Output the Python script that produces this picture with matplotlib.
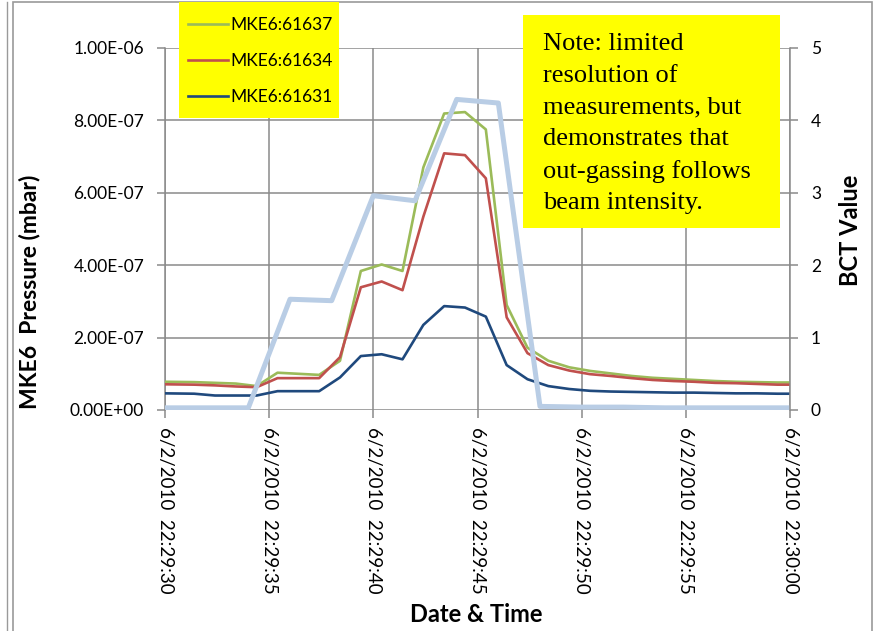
import matplotlib
matplotlib.use("Agg")
import matplotlib.pyplot as plt
from matplotlib.lines import Line2D
from matplotlib.patches import Rectangle

# ── Data ─────────────────────────────────────────────────────────────────────
# pressure samples: seconds after 22:29:30, values in units of 1e-7 mbar
press_sec = [0.0, 1.4, 2.4, 3.4, 4.4, 5.4, 6.4, 7.4, 8.4, 9.4, 10.4, 11.4,
             12.4, 13.4, 14.4, 15.4, 16.4, 17.4, 18.4, 19.4, 20.4, 21.4,
             22.4, 23.4, 24.4, 25.4, 26.4, 27.4, 28.4, 29.4, 30.0]
mke6_61637 = [0.78, 0.77, 0.75, 0.73, 0.66, 1.03, 1.00, 0.97, 1.36, 3.84, 4.02,
              3.84, 6.70, 8.19, 8.23, 7.75, 2.90, 1.72, 1.36, 1.18, 1.08, 1.01,
              0.94, 0.89, 0.86, 0.83, 0.80, 0.78, 0.77, 0.76, 0.76]
mke6_61634 = [0.71, 0.70, 0.68, 0.65, 0.63, 0.88, 0.88, 0.88, 1.46, 3.39, 3.55,
              3.31, 5.34, 7.09, 7.04, 6.40, 2.56, 1.57, 1.24, 1.09, 0.99, 0.94,
              0.88, 0.83, 0.80, 0.78, 0.75, 0.74, 0.72, 0.70, 0.70]
mke6_61631 = [0.46, 0.45, 0.40, 0.40, 0.40, 0.52, 0.52, 0.52, 0.90, 1.49, 1.54,
              1.40, 2.35, 2.87, 2.83, 2.58, 1.24, 0.85, 0.66, 0.58, 0.53, 0.51,
              0.50, 0.49, 0.48, 0.48, 0.47, 0.46, 0.46, 0.45, 0.45]

bct_sec = [0, 2, 4, 6, 8, 10, 12, 14, 16, 18, 20, 22, 24, 26, 28, 30]
bct_val = [0.03, 0.03, 0.03, 1.53, 1.51, 2.96, 2.89, 4.29, 4.24, 0.05, 0.04,
           0.04, 0.03, 0.03, 0.03, 0.03]

x_ticks = [0, 5, 10, 15, 20, 25, 30]
x_labels = ["6/2/2010  22:29:30", "6/2/2010  22:29:35", "6/2/2010  22:29:40",
            "6/2/2010  22:29:45", "6/2/2010  22:29:50", "6/2/2010  22:29:55",
            "6/2/2010  22:30:00"]
y_ticks = [0, 2e-7, 4e-7, 6e-7, 8e-7, 1e-6]
y_labels = ["0.00E+00", "2.00E-07", "4.00E-07", "6.00E-07", "8.00E-07", "1.00E-06"]

note = ("Note: limited\nresolution of\nmeasurements, but\n"
        "demonstrates that\nout-gassing follows\nbeam intensity.")

GREEN, RED, NAVY, SKY = "#9bbb59", "#c0504d", "#1f497d", "#b9cde5"
GRID = "#8a8a8a"
W, H = 875, 631

plt.rcParams["font.family"] = ["Lato", "DejaVu Sans"]

fig = plt.figure(figsize=(W / 100, H / 100), dpi=100)
ax = fig.add_axes([165 / W, 1 - 410 / H, 625 / W, 362 / H])

scale = 1e-7
h1, = ax.plot(press_sec, [v * scale for v in mke6_61637], color=GREEN, lw=1.9,
              label="MKE6:61637", zorder=3)
h2, = ax.plot(press_sec, [v * scale for v in mke6_61634], color=RED, lw=1.9,
              label="MKE6:61634", zorder=3)
h3, = ax.plot(press_sec, [v * scale for v in mke6_61631], color=NAVY, lw=1.9,
              label="MKE6:61631", zorder=3)

ax.set_xlim(0, 30)
ax.set_ylim(0, 1e-6)
ax.set_xticks(x_ticks)
ax.set_xticklabels(x_labels, rotation=270, fontsize=13.5)
ax.set_yticks(y_ticks)
ax.set_yticklabels(y_labels, fontsize=12.5)
ax.grid(True, color=GRID, lw=1.1)
ax.set_axisbelow(True)
ax.tick_params(axis="both", colors=GRID, length=6, width=1.1, labelcolor="black")
ax.tick_params(axis="x", pad=6)
ax.tick_params(axis="y", pad=9)
for side in ("top", "bottom", "right"):
    ax.spines[side].set_visible(False)
ax.spines["left"].set_color(GRID)
ax.spines["left"].set_linewidth(1.1)

ax2 = ax.twinx()
ax2.plot(bct_sec, bct_val, color=SKY, lw=3.6, zorder=2)
ax2.set_ylim(0, 5)
ax2.set_yticks([0, 1, 2, 3, 4, 5])
ax2.tick_params(axis="y", colors=GRID, length=6, width=1.1, labelcolor="black",
                labelsize=12.5, pad=9)
for side in ("top", "bottom", "left"):
    ax2.spines[side].set_visible(False)
ax2.spines["right"].set_color(GRID)
ax2.spines["right"].set_linewidth(1.1)

# axis titles
fig.text(30 / W, 1 - 292 / H, "MKE6  Pressure (mbar)", rotation=90, fontsize=16.5,
         fontweight="bold", ha="center", va="center")
fig.text(850 / W, 1 - 230 / H, "BCT Value", rotation=90, fontsize=17,
         fontweight="bold", ha="center", va="center")
fig.text(476 / W, 1 - 615 / H, "Date & Time", fontsize=17, fontweight="bold",
         ha="center", va="center")

# legend: yellow box drawn separately, entries placed on it
fig.patches.append(Rectangle((179 / W, 1 - 118 / H), 160 / W, 116 / H,
                             transform=fig.transFigure, facecolor="#ffff00",
                             edgecolor="none", zorder=4))
leg = fig.legend(handles=[h1, h2, h3], loc="upper left",
                 bbox_to_anchor=(188 / W, 1 - 17 / H), fontsize=12.5,
                 frameon=False, borderpad=0, labelspacing=1.15,
                 handlelength=2.3, handletextpad=0.12, borderaxespad=0)
leg.set_zorder(5)

# note box
fig.patches.append(Rectangle((523 / W, 1 - 228 / H), 257 / W, 213 / H,
                             transform=fig.transFigure, facecolor="#ffff00",
                             edgecolor="none", zorder=5))
fig.text(543 / W, 1 - 33 / H, note, fontsize=19, family="Liberation Serif",
         ha="left", va="top", linespacing=1.56, zorder=6)

# chart area frame
fig.patches.append(Rectangle((13 / W, -0.02), 859 / W, 1 - 2 / H + 0.02,
                             transform=fig.transFigure, facecolor="none",
                             edgecolor="#9a9a9a", lw=1.2, zorder=0))
fig.add_artist(Line2D([7 / W, 7 / W], [0, 1 - 2 / H], color="#9a9a9a", lw=1.0))

fig.savefig("out.png", dpi=100)
